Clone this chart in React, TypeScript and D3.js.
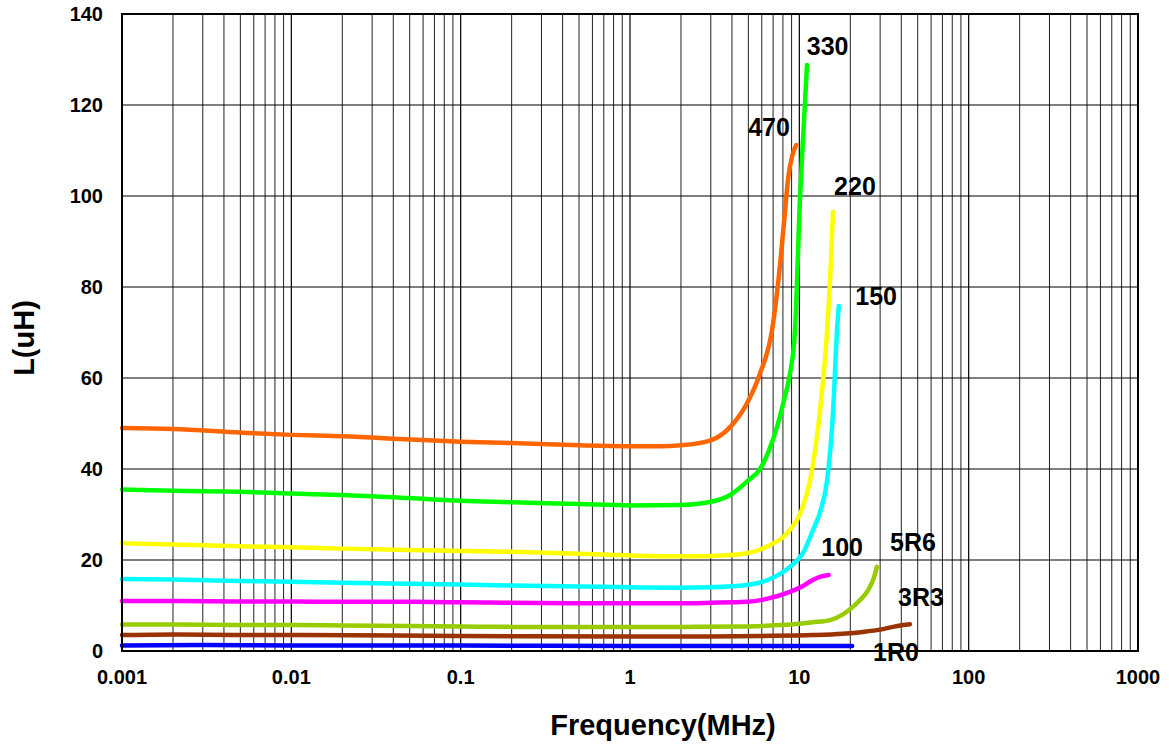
import React from "react";
import * as d3 from "d3";

const W = 1169;
const H = 744;
const M = { left: 122, right: 1138, top: 14, bottom: 651 };

const xTickValues = [0.001, 0.01, 0.1, 1, 10, 100, 1000];
const xTickLabels = ["0.001", "0.01", "0.1", "1", "10", "100", "1000"];
const yTickValues = [0, 20, 40, 60, 80, 100, 120, 140];

const f470 = [0.001, 0.002, 0.005, 0.01, 0.02, 0.05, 0.1, 0.2, 0.5, 1, 1.5, 2, 3, 3.9, 5, 5.86, 6.9, 7.7, 8.2, 8.6, 9.1, 9.6];
const L470 = [49, 48.8, 48, 47.5, 47.2, 46.5, 46, 45.7, 45.2, 45, 45, 45.2, 46.3, 49.2, 55, 61, 70.5, 85, 96, 104, 109, 111.2];

const f330 = [0.001, 0.002, 0.005, 0.01, 0.02, 0.05, 0.1, 0.2, 0.5, 1, 2, 3, 3.9, 5, 5.86, 6.6, 7.38, 8.1, 8.81, 9.43, 10.1, 10.6, 11.1];
const L330 = [35.5, 35.2, 35, 34.6, 34.3, 33.6, 33, 32.7, 32.3, 32, 32.1, 32.8, 34.3, 37.5, 40, 44, 49.2, 55, 61, 70.5, 99.8, 115, 128.8];

const f220 = [0.001, 0.002, 0.005, 0.01, 0.02, 0.05, 0.1, 0.2, 0.5, 1, 2, 3, 4.9, 6.5, 8.8, 10.2, 11.6, 13.2, 14.6, 15.3, 15.8];
const L220 = [23.7, 23.4, 23, 22.8, 22.5, 22.2, 22, 21.8, 21.4, 21, 20.8, 20.9, 21.5, 23, 26.6, 30.5, 37.6, 52.3, 70.5, 84, 96.5];

const f150 = [0.001, 0.002, 0.005, 0.01, 0.02, 0.05, 0.1, 0.2, 0.5, 1, 2, 3, 4.9, 6.5, 8.8, 10.5, 12.05, 13.5, 14.6, 15.8, 16.7, 17.1];
const L150 = [15.8, 15.7, 15.4, 15.2, 15, 14.8, 14.6, 14.4, 14.2, 14, 13.9, 14, 14.5, 15.6, 18.5, 21.5, 26.6, 31.5, 37.6, 52.3, 70.5, 75.8];

const f100 = [0.001, 0.002, 0.005, 0.01, 0.02, 0.05, 0.1, 0.2, 0.5, 1, 2, 3, 4.9, 6.5, 8.8, 10.5, 12, 13.5, 14.9];
const L100 = [11, 11, 10.9, 10.9, 10.8, 10.8, 10.7, 10.6, 10.5, 10.5, 10.5, 10.6, 10.8, 11.5, 13, 14.3, 15.6, 16.4, 16.7];

const f5R6 = [0.001, 0.002, 0.005, 0.01, 0.02, 0.05, 0.1, 0.2, 0.5, 1, 2, 5, 7.7, 10, 12, 15.2, 18, 20.7, 23, 25.5, 27.5, 28.7];
const L5R6 = [5.8, 5.8, 5.7, 5.7, 5.6, 5.5, 5.4, 5.3, 5.3, 5.3, 5.3, 5.4, 5.7, 6, 6.3, 6.8, 8, 9.7, 11.3, 13.4, 16, 18.5];

const f3R3 = [0.001, 0.002, 0.005, 0.01, 0.1, 1, 3, 6, 12, 18, 23.8, 30, 35.7, 41, 45];
const L3R3 = [3.5, 3.6, 3.5, 3.5, 3.3, 3.2, 3.2, 3.3, 3.5, 3.8, 4.2, 4.7, 5.3, 5.7, 5.9];

const f1R0 = [0.001, 0.003, 0.01, 0.1, 1, 10, 20.5];
const L1R0 = [1.2, 1.3, 1.2, 1.2, 1.1, 1.1, 1.1];

const seriesNames = ["1R0", "3R3", "5R6", "100", "150", "220", "330", "470"];
const seriesFreq = [f1R0, f3R3, f5R6, f100, f150, f220, f330, f470];
const seriesL = [L1R0, L3R3, L5R6, L100, L150, L220, L330, L470];
const seriesColors = ["#0000FF", "#993300", "#99CC00", "#FF00FF", "#00FFFF", "#FFFF00", "#00FF00", "#FF6600"];

// label anchor points (freq, L) for the series name text
const labelFreq = [37.2, 52.3, 46.9, 17.9, 28.4, 21.3, 14.7, 6.62];
const labelL = [-2.2, 9.9, 22, 20.9, 76, 100.2, 131, 113.2];

const FONT = "'Liberation Sans', Arial, Helvetica, sans-serif";

export default function App() {
  const x = d3.scaleLog().domain([0.001, 1000]).range([M.left, M.right]);
  const y = d3.scaleLinear().domain([0, 140]).range([M.bottom, M.top]);

  const minor: number[] = [];
  for (let e = -3; e < 3; e++) {
    for (let k = 2; k <= 9; k++) minor.push(k * Math.pow(10, e));
  }

  const line = d3
    .line<[number, number]>()
    .x((d) => x(d[0]))
    .y((d) => y(d[1]))
    .curve(d3.curveMonotoneX);

  return (
    <svg width={W} height={H} style={{ position: "absolute", left: 0, top: 0, background: "#fff" }} fontFamily={FONT}>
      <rect x={0} y={0} width={W} height={H} fill="#fff" />
      {minor.map((v, i) => (
        <line key={"m" + i} x1={x(v)} x2={x(v)} y1={M.top} y2={M.bottom} stroke="#222" strokeWidth={1} />
      ))}
      {xTickValues.map((v, i) => (
        <line key={"M" + i} x1={x(v)} x2={x(v)} y1={M.top} y2={M.bottom} stroke="#000" strokeWidth={1.2} />
      ))}
      {yTickValues.map((v, i) => (
        <line key={"h" + i} x1={M.left} x2={M.right} y1={y(v)} y2={y(v)} stroke="#000" strokeWidth={1.2} />
      ))}
      {seriesNames.map((n, i) => (
        <path
          key={n}
          d={line(seriesFreq[i].map((f, j) => [f, seriesL[i][j]] as [number, number])) || ""}
          fill="none"
          stroke={seriesColors[i]}
          strokeWidth={4.5}
          strokeLinecap="round"
          strokeLinejoin="round"
        />
      ))}
      <rect x={M.left} y={M.top} width={M.right - M.left} height={M.bottom - M.top} fill="none" stroke="#000" strokeWidth={2} />
      {yTickValues.map((v, i) => (
        <text key={"yt" + i} x={103} y={y(v)} dy="0.36em" textAnchor="end" fontSize={20} fontWeight="bold">
          {v}
        </text>
      ))}
      {xTickValues.map((v, i) => (
        <text key={"xt" + i} x={x(v)} y={684} textAnchor="middle" fontSize={20} fontWeight="bold">
          {xTickLabels[i]}
        </text>
      ))}
      {seriesNames.map((n, i) => (
        <text key={"lb" + n} x={x(labelFreq[i])} y={y(labelL[i])} textAnchor="middle" fontSize={25} fontWeight="bold">
          {n}
        </text>
      ))}
      <text x={663} y={735} textAnchor="middle" fontSize={29} fontWeight="bold">
        Frequency(MHz)
      </text>
      <text transform={`translate(34,338) rotate(-90)`} textAnchor="middle" fontSize={29} fontWeight="bold">
        L(uH)
      </text>
    </svg>
  );
}
